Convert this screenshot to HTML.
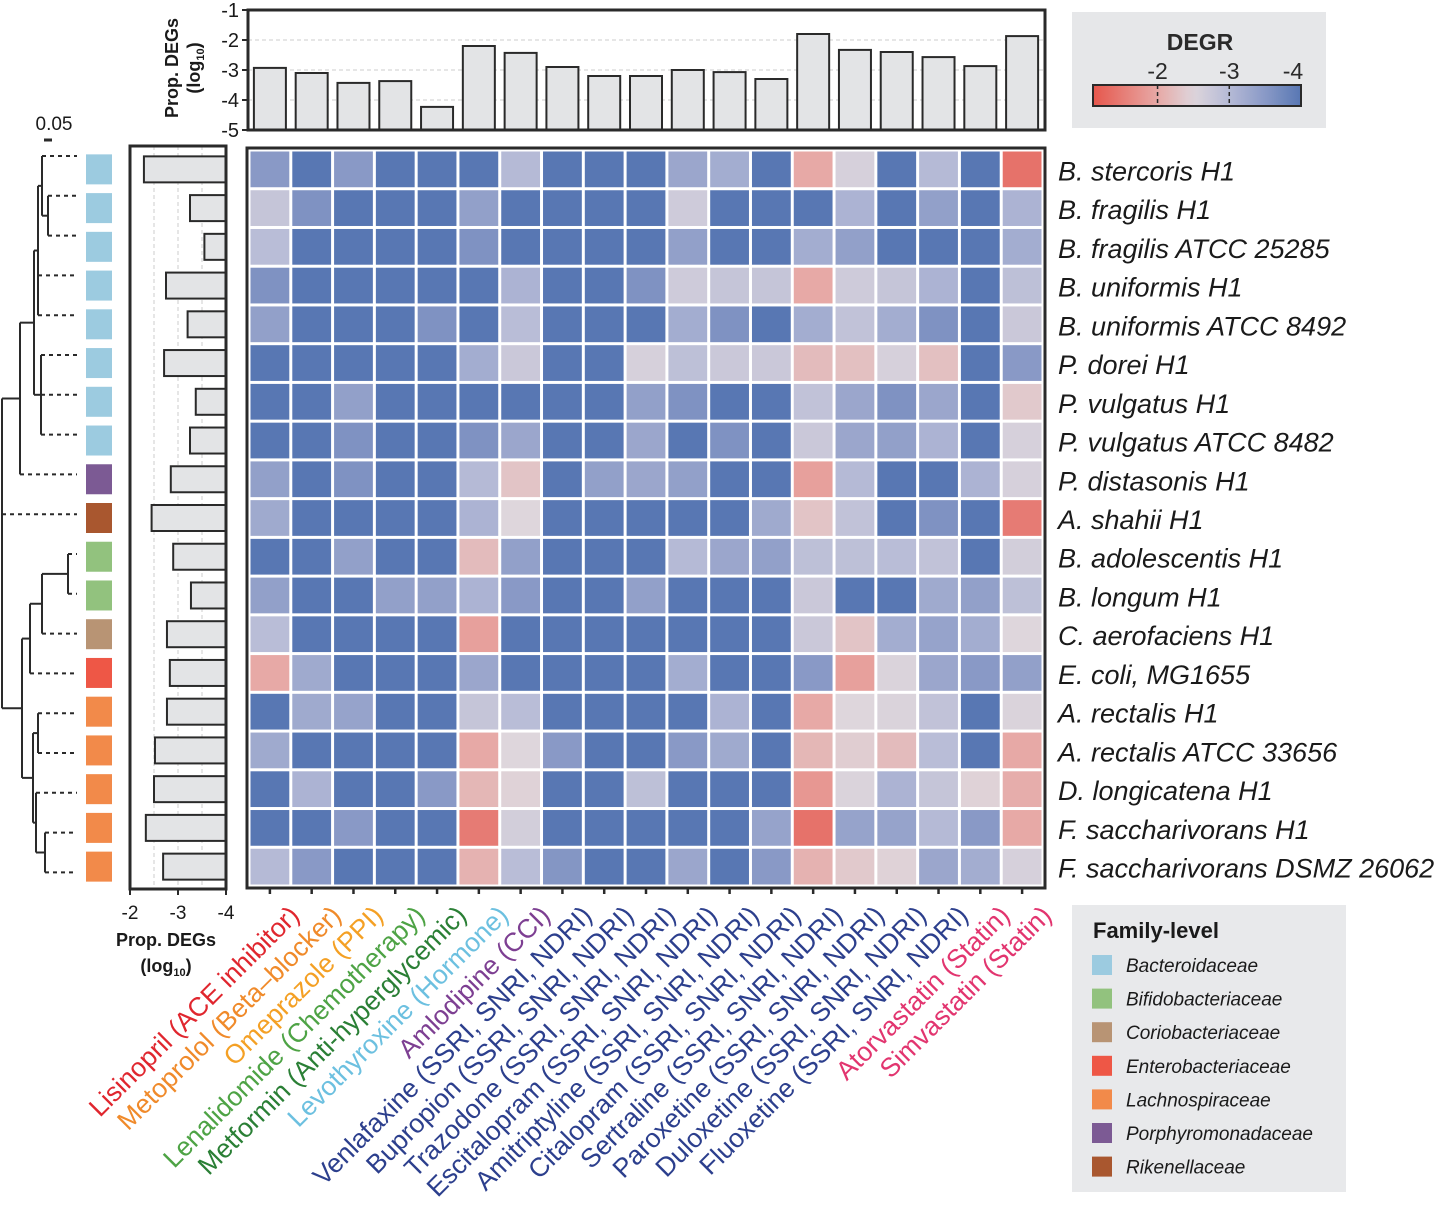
<!DOCTYPE html>
<html><head><meta charset="utf-8"><style>
html,body{margin:0;padding:0;background:#fff;}
svg{display:block;font-family:"Liberation Sans",Arial,sans-serif;}
</style></head><body>
<svg id="fig" width="1434" height="1211" viewBox="0 0 1434 1211" xmlns="http://www.w3.org/2000/svg">
<g id="dendro"></g>
<g id="fam"></g>
<g id="leftbars"></g>
<g id="topbars"></g>
<g id="heat"></g>
<g id="rowlabels"></g>
<g id="collabels"></g>
<g id="legend1"></g>
<g id="legend2"></g>
</svg>
<script>
const drugs=["Lisinopril (ACE inhibitor)","Metoprolol (Beta\u2013blocker)","Omeprazole (PPI)","Lenalidomide (Chemotherapy)","Metformin (Anti-hyperglycemic)","Levothyroxine (Hormone)","Amlodipine (CCI)","Venlafaxine (SSRI, SNRI, NDRI)","Bupropion (SSRI, SNRI, NDRI)","Trazodone (SSRI, SNRI, NDRI)","Escitalopram (SSRI, SNRI, NDRI)","Amitriptyline (SSRI, SNRI, NDRI)","Citalopram (SSRI, SNRI, NDRI)","Sertraline (SSRI, SNRI, NDRI)","Paroxetine (SSRI, SNRI, NDRI)","Duloxetine (SSRI, SNRI, NDRI)","Fluoxetine (SSRI, SNRI, NDRI)","Atorvastatin (Statin)","Simvastatin (Statin)"];
const drugColors=["#e0262e","#f08a2a","#f4a024","#4ea345","#2a7f35","#6cc0e0","#7d3f92","#2c3f8d","#2c3f8d","#2c3f8d","#2c3f8d","#2c3f8d","#2c3f8d","#2c3f8d","#2c3f8d","#2c3f8d","#2c3f8d","#e2356f","#e2356f"];
const strains=["B. stercoris H1","B. fragilis H1","B. fragilis ATCC 25285","B. uniformis H1","B. uniformis ATCC 8492","P. dorei H1","P. vulgatus H1","P. vulgatus ATCC 8482","P. distasonis H1","A. shahii H1","B. adolescentis H1","B. longum H1","C. aerofaciens H1","E. coli, MG1655","A. rectalis H1","A. rectalis ATCC 33656","D. longicatena H1","F. saccharivorans H1","F. saccharivorans DSMZ 26062"];
const strainFamily=[0,0,0,0,0,0,0,0,5,6,1,1,2,3,4,4,4,4,4];
const families=["Bacteroidaceae","Bifidobacteriaceae","Coriobacteriaceae","Enterobacteriaceae","Lachnospiraceae","Porphyromonadaceae","Rikenellaceae"];
const familyColors=["#9ccbe0","#92c27e","#b89474","#ee5746","#f28a4a","#7c5a94","#a9572f"];
const topValues=[-2.93,-3.1,-3.43,-3.37,-4.23,-2.2,-2.43,-2.9,-3.2,-3.2,-3.0,-3.07,-3.3,-1.8,-2.33,-2.4,-2.57,-2.87,-1.87];
const leftValues=[-2.29,-3.25,-3.55,-2.75,-3.2,-2.71,-3.37,-3.25,-2.85,-2.45,-2.9,-3.27,-2.77,-2.83,-2.77,-2.52,-2.5,-2.33,-2.69];
const topTicks=[-1,-2,-3,-4,-5];
const leftTicks=[-2,-3,-4];
const legendTicks=[-2,-3,-4];
const degr=[
[-3.5,-4,-3.5,-4,-4,-4,-3.0,-4,-4,-4,-3.3,-3.2,-4,-2.0,-2.6,-4,-3.0,-4,-1.4],
[-2.8,-3.6,-4,-4,-4,-3.4,-4,-4,-4,-4,-2.7,-4,-4,-4,-3.1,-4,-3.4,-4,-3.1],
[-2.95,-4,-4,-4,-4,-3.6,-4,-4,-4,-4,-3.4,-4,-4,-3.2,-3.4,-4,-4,-4,-3.2],
[-3.6,-4,-4,-4,-4,-4,-3.1,-4,-4,-3.6,-2.7,-2.8,-2.8,-2.0,-2.7,-2.8,-3.1,-4,-2.9],
[-3.4,-4,-4,-4,-3.6,-4,-2.95,-4,-4,-4,-3.2,-3.6,-4,-3.2,-2.85,-3.2,-3.6,-4,-2.75],
[-4,-4,-4,-4,-4,-3.2,-2.75,-4,-4,-2.6,-2.9,-2.75,-2.75,-2.2,-2.25,-2.6,-2.25,-4,-3.5],
[-4,-4,-3.4,-4,-4,-4,-4,-4,-4,-3.4,-3.6,-4,-4,-2.85,-3.3,-3.6,-3.3,-4,-2.35],
[-4,-4,-3.6,-4,-4,-3.6,-3.3,-4,-4,-3.3,-4,-3.6,-4,-2.75,-3.3,-3.4,-3.1,-4,-2.6],
[-3.4,-4,-3.6,-4,-4,-3.0,-2.3,-4,-3.4,-3.3,-3.4,-4,-4,-1.9,-3.0,-4,-4,-3.1,-2.6],
[-3.25,-4,-4,-4,-4,-3.1,-2.5,-4,-4,-4,-4,-4,-3.25,-2.3,-2.85,-4,-3.6,-4,-1.5],
[-4,-4,-3.4,-4,-4,-2.2,-3.4,-4,-4,-4,-3.0,-3.3,-3.4,-2.9,-2.9,-2.95,-2.85,-4,-2.65],
[-3.4,-4,-4,-3.4,-3.4,-3.1,-3.5,-4,-4,-3.4,-4,-4,-4,-2.75,-4,-4,-3.25,-3.4,-2.9],
[-2.95,-4,-4,-4,-4,-1.9,-4,-4,-4,-4,-4,-4,-4,-2.75,-2.3,-3.2,-3.35,-3.2,-2.5],
[-2.0,-3.25,-4,-4,-4,-3.3,-4,-4,-4,-4,-3.2,-4,-4,-3.5,-1.9,-2.55,-3.3,-3.5,-3.4],
[-4,-3.25,-3.35,-4,-4,-2.8,-2.95,-4,-4,-4,-4,-3.1,-4,-2.0,-2.5,-2.55,-2.85,-4,-2.55],
[-3.25,-4,-4,-4,-4,-2.0,-2.5,-3.5,-4,-4,-3.5,-3.25,-4,-2.15,-2.4,-2.2,-2.95,-4,-2.0],
[-4,-3.1,-4,-4,-3.5,-2.15,-2.45,-4,-4,-2.9,-4,-4,-4,-1.8,-2.55,-3.1,-2.8,-2.45,-2.05],
[-4,-4,-3.5,-4,-4,-1.5,-2.65,-4,-4,-4,-4,-4,-3.35,-1.4,-3.35,-3.35,-3.0,-3.5,-2.0],
[-3.0,-3.5,-4,-4,-4,-2.1,-2.95,-3.55,-4,-4,-3.3,-4,-3.5,-2.1,-2.35,-2.45,-3.3,-3.2,-2.6]
];
const NS="http://www.w3.org/2000/svg";
function mk(parent,tag,attrs,text){const e=document.createElementNS(NS,tag);for(const k in attrs)e.setAttribute(k,attrs[k]);if(text!==undefined)e.textContent=text;parent.appendChild(e);return e;}
const stops=[[-1.1,[230,87,76]],[-2.0,[231,169,166]],[-2.5,[222,214,220]],[-3.0,[181,186,214]],[-3.5,[137,153,198]],[-4.0,[88,119,179]]];
function color(v){if(v>=stops[0][0])return rgb(stops[0][1]);for(let i=0;i<stops.length-1;i++){const a=stops[i],b=stops[i+1];if(v<=a[0]&&v>=b[0]){const t=(a[0]-v)/(a[0]-b[0]);return rgb(a[1].map((c,j)=>Math.round(c+(b[1][j]-c)*t)));}}return rgb(stops[stops.length-1][1]);}
function rgb(a){return `rgb(${a[0]},${a[1]},${a[2]})`;}
const hx0=249,hx1=1043,hy0=150,hy1=886,nC=drugs.length,nR=strains.length;
const cw=(hx1-hx0)/nC,rh=(hy1-hy0)/nR;
const colX=i=>hx0+(i+0.5)*cw,rowY=j=>hy0+(j+0.5)*rh;
const heat=document.getElementById('heat');
mk(heat,'rect',{x:hx0-2,y:hy0-2,width:hx1-hx0+4,height:hy1-hy0+4,fill:'#fff'});
for(let r=0;r<nR;r++)for(let c=0;c<nC;c++){
 const e=mk(heat,'rect',{x:hx0+c*cw+1.5,y:hy0+r*rh+1.5,width:cw-3,height:rh-3,fill:color(degr[r][c])});
 
 
}
const hf=mk(heat,'rect',{x:hx0-2,y:hy0-2,width:hx1-hx0+4,height:hy1-hy0+4,fill:'none',stroke:'#2a2a2a','stroke-width':3});

for(let c=0;c<nC;c++)mk(heat,'line',{x1:colX(c),x2:colX(c),y1:hy1+2,y2:hy1+8,stroke:'#2a2a2a','stroke-width':2.5});
const rl=document.getElementById('rowlabels');
strains.forEach((s,j)=>{const e=mk(rl,'text',{x:1058,y:rowY(j)+11,'font-size':27,'font-style':'italic',fill:'#1a1a1a'},s);
 });
const cl=document.getElementById('collabels');
drugs.forEach((d,i)=>{const x=colX(i)+31,y=917;const e=mk(cl,'text',{x:x,y:y,'font-size':26.5,fill:drugColors[i],'text-anchor':'end',transform:`rotate(-45 ${x} ${y})`},d);
 });
const tb=document.getElementById('topbars');
const tx0=248,tx1=1045,ty0=10,ty1=130;
const ty=v=>ty0+(-1-v)*(ty1-ty0)/4;
[-2,-3,-4].forEach(v=>mk(tb,'line',{x1:tx0,x2:tx1,y1:ty(v),y2:ty(v),stroke:'#ccc','stroke-dasharray':'4 3','stroke-width':1}));
topValues.forEach((v,i)=>{const e=mk(tb,'rect',{x:colX(i)-16,y:ty(v),width:32,height:ty1-ty(v),fill:'#e3e4e6',stroke:'#2a2a2a','stroke-width':2});
 });
mk(tb,'rect',{x:tx0,y:ty0,width:tx1-tx0,height:ty1-ty0,fill:'none',stroke:'#2a2a2a','stroke-width':3});
topTicks.forEach(v=>{mk(tb,'line',{x1:tx0-6,x2:tx0,y1:ty(v),y2:ty(v),stroke:'#2a2a2a','stroke-width':2});
 const e=mk(tb,'text',{x:tx0-9,y:ty(v)+7,'font-size':20,'text-anchor':'end',fill:'#1a1a1a'},String(v));
 });
const tt=mk(tb,'text',{x:0,y:0,'font-size':18,'font-weight':'bold','text-anchor':'middle',fill:'#1a1a1a',transform:'translate(178 68) rotate(-90)'},'Prop. DEGs');

const tt2=mk(tb,'text',{x:0,y:0,'font-size':18,'font-weight':'bold','text-anchor':'middle',fill:'#1a1a1a',transform:'translate(200 68) rotate(-90)'});
tt2.innerHTML='(log<tspan font-size="11" dy="4">10</tspan><tspan dy="-4">)</tspan>';

const lb=document.getElementById('leftbars');
const lx0=130,lx1=226,ly0=146,ly1=889;
const lx=v=>lx0+(-2-v)*(lx1-lx0)/2;
[-2.5,-3,-3.5].forEach(v=>mk(lb,'line',{x1:lx(v),x2:lx(v),y1:ly0,y2:ly1,stroke:'#ccc','stroke-dasharray':'4 3','stroke-width':1}));
leftValues.forEach((v,j)=>{const e=mk(lb,'rect',{x:lx(v),y:rowY(j)-13,width:lx1-lx(v),height:26,fill:'#e3e4e6',stroke:'#2a2a2a','stroke-width':2});
 });
mk(lb,'rect',{x:lx0,y:ly0,width:lx1-lx0,height:ly1-ly0,fill:'none',stroke:'#2a2a2a','stroke-width':3});
leftTicks.forEach(v=>{mk(lb,'line',{x1:lx(v),x2:lx(v),y1:ly1,y2:ly1+6,stroke:'#2a2a2a','stroke-width':2});
 const e=mk(lb,'text',{x:lx(v),y:919,'font-size':19,'text-anchor':'middle',fill:'#1a1a1a'},String(v));
 });
const lt=mk(lb,'text',{x:166,y:946,'font-size':18,'font-weight':'bold','text-anchor':'middle',fill:'#1a1a1a'},'Prop. DEGs');

const lt2=mk(lb,'text',{x:166,y:972,'font-size':18,'font-weight':'bold','text-anchor':'middle',fill:'#1a1a1a'});
lt2.innerHTML='(log<tspan font-size="11" dy="4">10</tspan><tspan dy="-4">)</tspan>';

const fs=document.getElementById('fam');
strainFamily.forEach((f,j)=>{const e=mk(fs,'rect',{x:86,y:rowY(j)-15,width:26,height:30,fill:familyColors[f]});
 });
const dg=document.getElementById('dendro');
const LY=j=>156+j*39.8;
function hl(x1,x2,y,dash){mk(dg,'line',{x1:x1,x2:x2,y1:y,y2:y,stroke:'#2a2a2a','stroke-width':2,'stroke-dasharray':dash?'4 4':'none'});}
function vl(x,y1,y2){mk(dg,'line',{x1:x,x2:x,y1:y1,y2:y2,stroke:'#2a2a2a','stroke-width':2});}
const leafX=[42,48,48,38,38,41,41,41,20,2,68,68,42,30,38,38,36,45,45];
leafX.forEach((x,j)=>{hl(x,77,LY(j),true);});
vl(48,LY(1),LY(2));hl(42,48,(LY(1)+LY(2))/2);
vl(42,LY(0),(LY(1)+LY(2))/2);
const n13=(LY(0)+(LY(1)+LY(2))/2)/2;hl(38,42,n13);
vl(38,n13,LY(4));
const n15=(n13+LY(4))/2; hl(34,38,n15);
vl(41,LY(5),LY(7));hl(34,41,LY(6));
vl(34,n15,LY(6));const n18=(n15+LY(6))/2;hl(20,34,n18);
vl(20,n18,LY(8));const n19=(n18+LY(8))/2;hl(2,20,n19);
vl(68,LY(10),LY(11));const a=(LY(10)+LY(11))/2;hl(42,68,a);
vl(42,a,LY(12));const b=(a+LY(12))/2;hl(30,42,b);
vl(30,b,LY(13));const c2=(b+LY(13))/2;hl(22,30,c2);
vl(38,LY(14),LY(15));const d=(LY(14)+LY(15))/2;hl(33,38,d);
vl(45,LY(17),LY(18));const e2=(LY(17)+LY(18))/2;hl(36,45,e2);
vl(36,LY(16),e2);const f2=(LY(16)+e2)/2;hl(33,36,f2);
vl(33,d,f2);const g=(d+f2)/2;hl(22,33,g);
vl(22,c2,g);const h=(c2+g)/2;hl(2,22,h);
vl(2,n19,h);
mk(dg,'line',{x1:44,x2:52,y1:140,y2:140,stroke:'#2a2a2a','stroke-width':3});
const sb=mk(dg,'text',{x:54,y:130,'font-size':19,'text-anchor':'middle',fill:'#1a1a1a'},'0.05');

const l1=document.getElementById('legend1');
const defs=mk(l1,'defs',{});const lg=mk(defs,'linearGradient',{id:'gr',x1:'0',x2:'1',y1:'0',y2:'0'});
const bx0=1093,bx1=1301,bvL=-1.1,bvR=-4.0;
const bx=v=>bx0+(v-bvL)/(bvR-bvL)*(bx1-bx0);
for(let k=0;k<=20;k++){const v=bvL+(bvR-bvL)*k/20;mk(lg,'stop',{offset:(k/20),'stop-color':color(v)});}
mk(l1,'rect',{x:1072,y:12,width:254,height:116,fill:'#e6e7e9'});
const dt=mk(l1,'text',{x:1200,y:50,'font-size':23,'font-weight':'bold','text-anchor':'middle',fill:'#2a2a2a'},'DEGR');

mk(l1,'rect',{x:bx0,y:85,width:bx1-bx0,height:21,fill:'url(#gr)',stroke:'#2a2a2a','stroke-width':2});
legendTicks.forEach(v=>{const x=bx(v);if(v>-4)mk(l1,'line',{x1:x,x2:x,y1:85,y2:106,stroke:'#2a2a2a','stroke-width':1.5,'stroke-dasharray':'4 3'});
 const e=mk(l1,'text',{x:Math.min(x,1293),y:79,'font-size':23,'text-anchor':'middle',fill:'#2a2a2a'},String(v));
 });
const l2=document.getElementById('legend2');
mk(l2,'rect',{x:1072,y:905,width:274,height:287,fill:'#e8e9eb'});
const ft=mk(l2,'text',{x:1093,y:938,'font-size':22,'font-weight':'bold',fill:'#1a1a1a'},'Family-level');

families.forEach((f,i)=>{const y=966+i*33.6;
 const s=mk(l2,'rect',{x:1092,y:y-11,width:20,height:20,fill:familyColors[i]});
 
 const t=mk(l2,'text',{x:1126,y:y+6,'font-size':19,'font-style':'italic',fill:'#1a1a1a'},f);
 });
</script>
</body></html>
